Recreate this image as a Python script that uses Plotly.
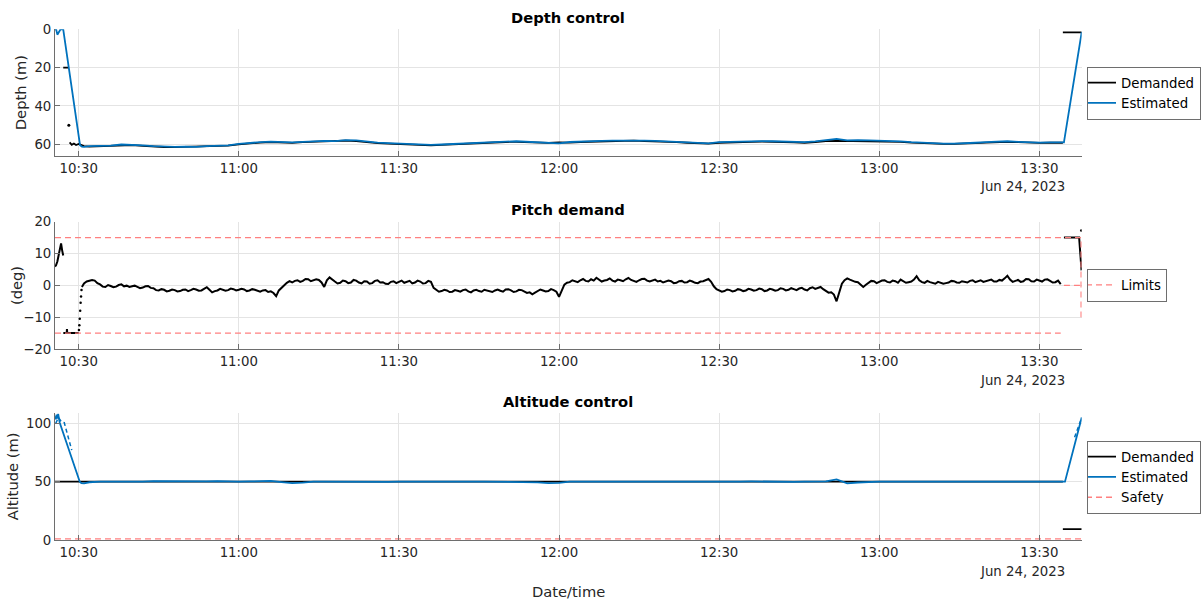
import plotly.graph_objects as go
import pandas as pd

FONT = "DejaVu Sans"
BASE = pd.Timestamp("2023-06-24 10:30:00")

def T(mins):
    return [None if m is None else BASE + pd.Timedelta(minutes=m) for m in mins]

# ---------------- time axis ----------------
x_start_min = -4.44
x_end_min = 187.93
tick_labels = ["10:30", "11:00", "11:30", "12:00", "12:30", "13:00", "13:30"]
tick_mins = [0, 30, 60, 90, 120, 150, 180]
date_label = "Jun 24, 2023"

# ---------------- depth (2-min samples, t = 2..184 min after 10:30) ----------------
depth_step_min = 2
depth_first_min = 2
depth_est_main = [
    61.0, 60.9, 60.7, 60.1, 60.2, 60.6, 61.0, 61.2, 61.3, 61.2,
    61.3, 61.0, 60.8, 60.6, 59.8, 59.2, 58.9, 58.6, 58.9, 59.0,
    58.7, 58.4, 58.2, 58.3, 57.8, 58.0, 58.6, 59.1, 59.4, 59.7,
    60.0, 60.2, 60.3, 60.1, 59.8, 59.6, 59.4, 59.1, 58.8, 58.6,
    58.4, 58.6, 58.8, 59.0, 59.5, 58.8, 58.5, 58.4, 58.2, 58.1,
    58.0, 57.9, 58.1, 58.2, 58.5, 58.7, 59.0, 59.3, 59.5, 58.9,
    58.7, 58.6, 58.5, 58.3, 58.4, 58.6, 58.8, 58.9, 58.5, 58.0,
    57.2, 58.0, 57.8, 58.0, 58.1, 58.3, 58.5, 58.9, 59.2, 59.5,
    59.6, 59.6, 59.5, 59.2, 58.9, 58.6, 58.4, 58.7, 59.0, 59.1,
    59.0, 59.1]
depth_dem_main = [
    61.2, 61.0, 60.8, 60.3, 60.4, 60.8, 61.2, 61.4, 61.5, 61.3,
    61.4, 61.2, 60.9, 60.7, 60.0, 59.4, 59.1, 58.9, 59.2, 59.3,
    58.9, 58.7, 58.5, 58.5, 58.1, 58.3, 58.9, 59.4, 59.7, 60.0,
    60.3, 60.5, 60.6, 60.3, 60.0, 59.8, 59.6, 59.3, 59.0, 58.8,
    58.7, 58.9, 59.0, 59.3, 59.0, 59.1, 58.8, 58.6, 58.4, 58.3,
    58.2, 58.1, 58.3, 58.4, 58.7, 58.9, 59.2, 59.5, 59.7, 59.2,
    58.9, 58.9, 58.7, 58.6, 58.6, 58.8, 59.0, 59.2, 58.8, 58.3,
    58.2, 58.3, 58.1, 58.3, 58.3, 58.5, 58.7, 59.1, 59.4, 59.7,
    59.8, 59.8, 59.7, 59.4, 59.1, 58.8, 58.7, 58.9, 59.2, 59.3,
    59.2, 59.3]
depth_est_start_min = [-4.44, -4.2, -4.0, -3.7, -3.4, -2.9, 0.25, 0.6, 1.0]
depth_est_start = [0.0, 0.3, 2.8, 1.5, 0.0, 0.0, 60.5, 61.2, 61.3]
depth_est_end_min = [184.6, 187.93]
depth_est_end = [59.0, 1.5]

depth_dem_a_min = [-2.9, -2.0]
depth_dem_a = [20.0, 20.0]
depth_dem_dot_min = [-1.85]
depth_dem_dot = [50.0]
depth_dem_start_min = [-1.7, -1.3, -0.9, -0.5, 0.0, 0.5, 1.0]
depth_dem_start = [59.0, 60.3, 59.6, 60.4, 59.8, 60.5, 60.9]
depth_dem_tail_min = [184.4]
depth_dem_tail = [59.2]
depth_dem_end_min = [184.4, 187.93]
depth_dem_end = [1.6, 1.6]

# ---------------- pitch (0.5-min samples, t = 1..184 min after 10:30) ----------------
pitch_step_min = 0.5
pitch_first_min = 1.0
pitch_main = [
    0.6, 1.2, 1.4, 1.7, 1.5, 0.7, 0.3, -0.4, -0.5, 0.1, -0.2, -0.6, -0.4, 0.1, 0.3, -0.3, -0.1, -0.5, -0.3,
    -0.1, -0.5, -0.9, -0.7, -0.3, -0.2, -0.8, -0.9, -1.5, -1.6, -1.2, -1.4, -1.9, -1.7, -1.3, -1.5, -1.9, -1.8, -1.4, -1.3,
    -1.8, -1.5, -1.1, -1.3, -1.7, -1.6, -1.0, -0.6, -1.4, -2.2, -1.8, -1.6, -1.1, -1.3, -1.7, -1.5, -1.0, -1.2, -1.6, -1.4,
    -1.1, -1.3, -1.8, -1.6, -1.2, -1.4, -1.8, -2.0, -1.6, -1.5, -2.1, -1.9, -2.4, -3.4, -1.6, -0.8, 0.3, 0.8, 1.3, 0.9,
    1.4, 1.6, 1.1, 1.4, 2.0, 1.9, 1.3, 1.5, 1.9, 1.7, 0.9, -0.5, 1.6, 2.5, 1.7, 1.2, 0.6, 0.8, 1.5, 1.3,
    0.7, 0.9, 1.7, 1.5, 0.9, 0.6, 1.3, 1.2, 0.5, 0.7, 1.4, 1.6, 0.9, 1.0, 0.5, 0.4, 1.1, 1.3, 0.7, 1.1,
    1.5, 0.8, 1.0, 1.4, 0.6, 0.9, 1.5, 1.2, 0.6, 0.7, 1.4, 1.1, -0.8, -1.5, -2.0, -1.8, -1.4, -1.6, -2.1, -2.0,
    -1.5, -1.7, -2.0, -1.5, -1.3, -1.9, -2.2, -1.6, -1.4, -1.8, -2.0, -1.4, -1.6, -1.9, -2.1, -1.6, -1.3, -1.7, -2.0, -1.3,
    -1.2, -1.6, -2.1, -1.9, -1.4, -1.5, -2.0, -2.4, -2.2, -2.8, -2.3, -1.9, -1.3, -1.6, -1.9, -1.8, -1.2, -1.5, -2.0, -3.6,
    -1.5, 0.2, 0.8, 1.0, 1.6, 1.3, 1.0, 1.6, 2.0, 1.4, 1.2, 1.9, 1.5, 2.4, 1.8, 1.2, 1.5, 1.7, 2.2, 1.5,
    1.2, 1.8, 1.6, 1.3, 1.9, 2.3, 1.7, 1.5, 1.1, 1.6, 2.0, 2.1, 1.5, 1.2, 1.6, 1.8, 1.2, 1.4, 0.9, 1.1,
    1.5, 1.3, 0.7, 0.8, 1.3, 1.4, 0.9, 1.0, 1.5, 1.2, 0.8, 0.7, 1.2, 1.3, 1.6, 2.0, 1.1, -0.3, -1.2, -1.6,
    -2.0, -1.8, -1.3, -1.5, -1.9, -1.7, -1.2, -1.4, -1.8, -1.6, -1.1, -1.3, -1.7, -1.5, -1.0, -1.2, -1.8, -1.6, -1.1, -1.3,
    -1.7, -1.5, -0.9, -1.1, -1.6, -1.4, -0.9, -1.2, -1.5, -1.0, -0.8, -1.3, -1.6, -0.9, -0.6, -1.1, -0.9, -0.5, -1.2, -1.9,
    -2.3, -2.2, -2.9, -5.0, -2.0, 0.5, 1.6, 2.2, 1.8, 1.4, 1.1, 1.0, 0.2, -0.5, 0.2, 0.8, 1.4, 1.3, 0.7, 1.1,
    1.5, 1.6, 1.1, 0.9, 1.5, 1.3, 0.8, 1.8, 1.4, 0.8, 1.0, 1.2, 1.8, 2.9, 1.6, 1.0, 0.8, 1.4, 1.0, 0.7,
    0.5, 1.1, 0.9, 0.5, 0.7, 0.9, 1.4, 1.3, 0.9, 0.8, 1.3, 1.2, 0.9, 1.4, 1.6, 1.0, 1.2, 1.6, 1.1, 1.3,
    1.7, 1.8, 1.2, 1.2, 1.7, 1.5, 2.2, 3.0, 1.8, 1.1, 1.4, 1.7, 1.1, 1.3, 2.0, 1.9, 1.3, 1.2, 1.8, 1.6,
    1.2, 1.8, 1.9, 1.4, 0.9, 1.0, 1.5, 0.4]
pitch_a_min = [-4.44, -4.25, -4.0, -3.75, -3.5, -3.3, -3.1, -2.9]
pitch_a = [5.9, 6.3, 7.5, 10.0, 12.5, 13.2, 11.0, 9.4]
pitch_b_min = [-2.88, -2.25, -2.2, -2.15, 0.0]
pitch_b = [-15.0, -15.0, -13.7, -15.0, -15.0]
pitch_rise_min = [0.05, 0.12, 0.2, 0.28, 0.36, 0.44, 0.52]
pitch_rise = [-14.0, -12.5, -10.5, -8.0, -5.5, -3.5, -1.5]
pitch_d0_min = [0.6]
pitch_d0 = [-0.5]
pitch_e_min = [184.6, 187.45, 187.9]
pitch_e = [15.0, 15.0, 4.7]
pitch_dot_min = [187.85]
pitch_dot = [17.2]
lim_up_min = [-4.44, 187.82, 187.82]
lim_up = [15.0, 15.0, -10.0]
lim_lo_min = [-4.44, 184.0, None, 184.6, 187.82]
lim_lo = [-15.0, -15.0, None, 0.0, 0.0]

# ---------------- altitude (2-min samples, t = 2..184) ----------------
alt_main = [
    49.5, 50.1, 50.0, 50.1, 50.0, 50.1, 50.5, 50.4, 50.3, 50.0,
    50.1, 50.2, 50.4, 50.1, 50.0, 50.2, 50.5, 50.6, 49.6, 48.8,
    49.2, 50.0, 50.1, 50.0, 50.2, 50.0, 50.1, 50.0, 49.9, 50.1,
    50.0, 49.9, 50.1, 50.0, 50.2, 50.1, 50.0, 50.1, 50.0, 50.2,
    50.1, 50.0, 49.4, 48.8, 49.0, 50.0, 50.1, 50.2, 50.0, 50.1,
    50.0, 50.1, 50.0, 50.2, 50.1, 50.0, 50.1, 50.0, 49.8, 50.1,
    50.0, 50.1, 50.2, 50.0, 50.1, 50.0, 49.9, 50.1, 50.0, 50.3,
    52.0, 48.6, 49.3, 50.0, 50.1, 50.0, 50.2, 50.1, 50.0, 50.1,
    50.0, 49.9, 50.1, 50.0, 50.2, 50.1, 50.0, 50.1, 50.0, 50.1,
    50.0, 50.0]
alt_est_start_min = [-4.44, -4.3, -4.15, -4.0, -3.85, -3.7, -3.55, 0.2, 0.5, 1.0, 1.5]
alt_est_start = [106.0, 103.5, 107.5, 104.0, 108.0, 102.5, 100.5, 50.0, 48.8, 48.6, 49.0]
alt_est_end_min = [184.8, 187.93]
alt_est_end = [50.0, 105.0]
alt_meas_min = [-4.3, -3.8, -3.2, -2.7, -1.3, None, 186.6, 187.93]
alt_meas = [100.0, 105.0, 101.0, 100.5, 77.0, None, 88.0, 105.0]
alt_dem_min = [-4.44, 184.4, None, 184.4, 187.93]
alt_dem = [50.0, 50.0, None, 9.4, 9.4]
safety_min = [-4.44, 187.93]
safety = [1.0, 1.0]

grid2_min = [depth_first_min + depth_step_min * i for i in range(len(depth_est_main))]
gridp_min = [pitch_first_min + pitch_step_min * i for i in range(len(pitch_main))]

BLUE = "#0072BD"
BLACK = "#000000"
RED = "rgb(255,128,128)"
AXC = "rgb(110,110,110)"
GRIDC = "rgb(228,228,228)"
TXT = "#262626"

fig = go.Figure()

# depth
fig.add_trace(go.Scatter(
    x=T(depth_dem_a_min + [None] + depth_dem_start_min + grid2_min + depth_dem_tail_min + [None] + depth_dem_end_min),
    y=depth_dem_a + [None] + depth_dem_start + depth_dem_main + depth_dem_tail + [None] + depth_dem_end,
    mode="lines", line=dict(color=BLACK, width=1.8), name="Demanded",
    xaxis="x", yaxis="y", legend="legend"))
fig.add_trace(go.Scatter(
    x=T(depth_dem_dot_min), y=depth_dem_dot, mode="markers",
    marker=dict(color=BLACK, size=3), showlegend=False, xaxis="x", yaxis="y"))
fig.add_trace(go.Scatter(
    x=T(depth_est_start_min + grid2_min + depth_est_end_min),
    y=depth_est_start + depth_est_main + depth_est_end,
    mode="lines", line=dict(color=BLUE, width=1.8), name="Estimated",
    xaxis="x", yaxis="y", legend="legend"))

# pitch
fig.add_trace(go.Scatter(
    x=T(pitch_a_min + [None] + pitch_b_min + [None] + pitch_d0_min + gridp_min + [None] + pitch_e_min),
    y=pitch_a + [None] + pitch_b + [None] + pitch_d0 + pitch_main + [None] + pitch_e,
    mode="lines", line=dict(color=BLACK, width=2), showlegend=False,
    xaxis="x2", yaxis="y2"))
fig.add_trace(go.Scatter(
    x=T(pitch_rise_min + pitch_dot_min), y=pitch_rise + pitch_dot, mode="markers",
    marker=dict(color=BLACK, size=2.5), showlegend=False, xaxis="x2", yaxis="y2"))
fig.add_trace(go.Scatter(
    x=T(lim_up_min), y=lim_up, mode="lines",
    line=dict(color=RED, width=1.3, dash="6px,4px"), name="Limits",
    legendgroup="lim", xaxis="x2", yaxis="y2", legend="legend2"))
fig.add_trace(go.Scatter(
    x=T(lim_lo_min), y=lim_lo, mode="lines",
    line=dict(color=RED, width=1.3, dash="6px,4px"), name="Limits",
    legendgroup="lim", showlegend=False, xaxis="x2", yaxis="y2", legend="legend2"))

# altitude
fig.add_trace(go.Scatter(
    x=T(alt_dem_min), y=alt_dem, mode="lines",
    line=dict(color=BLACK, width=1.8), name="Demanded",
    xaxis="x3", yaxis="y3", legend="legend3"))
fig.add_trace(go.Scatter(
    x=T(alt_meas_min), y=alt_meas, mode="lines",
    line=dict(color=BLUE, width=1.5, dash="4px,3px"), showlegend=False,
    xaxis="x3", yaxis="y3"))
fig.add_trace(go.Scatter(
    x=T(alt_est_start_min + grid2_min + alt_est_end_min),
    y=alt_est_start + alt_main + alt_est_end, mode="lines",
    line=dict(color=BLUE, width=1.8), name="Estimated",
    xaxis="x3", yaxis="y3", legend="legend3"))
fig.add_trace(go.Scatter(
    x=T(safety_min), y=safety, mode="lines",
    line=dict(color=RED, width=1.3, dash="6px,4px"), name="Safety",
    xaxis="x3", yaxis="y3", legend="legend3"))

W, H = 1203, 603
XDOM = [55 / W, 1081.7 / W]
xr = [BASE + pd.Timedelta(minutes=x_start_min), BASE + pd.Timedelta(minutes=x_end_min)]
tickvals = T(tick_mins)

def xaxis(anchor):
    return dict(type="date", range=xr, domain=XDOM, anchor=anchor, automargin=False,
                showline=True, linecolor=AXC, linewidth=1,
                ticks="inside", ticklen=5, tickcolor=AXC, tickwidth=1,
                showgrid=True, gridcolor=GRIDC, gridwidth=1, zeroline=False,
                tickvals=tickvals, ticktext=tick_labels,
                tickfont=dict(family=FONT, size=13.3, color=TXT))

def yaxis(anchor, top_px, bot_px, rng, tv):
    return dict(domain=[1 - bot_px / H, 1 - top_px / H], anchor=anchor, range=rng,
                automargin=False,
                showline=True, linecolor=AXC, linewidth=1,
                ticks="inside", ticklen=5, tickcolor=AXC, tickwidth=1,
                showgrid=True, gridcolor=GRIDC, gridwidth=1, zeroline=False,
                tickvals=tv, tickfont=dict(family=FONT, size=13.3, color=TXT))

axes = [(29.3, 155.7), (221.7, 349.0), (413.3, 540.0)]

def legend(center_px):
    return dict(x=1087 / W, y=1 - center_px / H, xanchor="left", yanchor="middle",
                bgcolor="white", bordercolor=AXC, borderwidth=1,
                font=dict(family=FONT, size=13.3, color="#000000"),
                tracegroupgap=0, indentation=-7)

annotations = []
titles = ["Depth control", "Pitch demand", "Altitude control"]
ylabels = [("Depth (m)", 20.7), ("(deg)", 16.7), ("Altitude (m)", 12.7)]
for (top, bot), title, (yl, ylx) in zip(axes, titles, ylabels):
    annotations.append(dict(text="<b>%s</b>" % title, x=(55 + 1081.7) / 2 / W, y=1 - (top - 12) / H,
                            xref="paper", yref="paper", showarrow=False,
                            xanchor="center", yanchor="middle",
                            font=dict(family=FONT, size=14.7, color="#000000")))
    annotations.append(dict(text=yl, x=ylx / W, y=1 - (top + bot) / 2 / H,
                            xref="paper", yref="paper", showarrow=False, textangle=-90,
                            xanchor="center", yanchor="middle",
                            font=dict(family=FONT, size=14.7, color=TXT)))
    annotations.append(dict(text=date_label, x=1067 / W, y=1 - (bot + 31) / H,
                            xref="paper", yref="paper", showarrow=False,
                            xanchor="right", yanchor="middle",
                            font=dict(family=FONT, size=13.3, color=TXT)))
annotations.append(dict(text="Date/time", x=(55 + 1081.7) / 2 / W, y=1 - 591 / H,
                        xref="paper", yref="paper", showarrow=False,
                        xanchor="center", yanchor="middle",
                        font=dict(family=FONT, size=14.7, color=TXT)))

fig.update_layout(
    width=W, height=H, margin=dict(l=0, r=0, t=0, b=0, autoexpand=False),
    paper_bgcolor="white", plot_bgcolor="white",
    font=dict(family=FONT, size=13.3, color=TXT),
    xaxis=xaxis("y"), xaxis2=xaxis("y2"), xaxis3=xaxis("y3"),
    yaxis=yaxis("x", *axes[0], [65.95, 0], [0, 20, 40, 60]),
    yaxis2=yaxis("x2", *axes[1], [-20, 20], [-20, -10, 0, 10, 20]),
    yaxis3=yaxis("x3", *axes[2], [0, 108.6], [0, 50, 100]),
    legend=legend(93), legend2=legend(285.2), legend3=legend(477),
    annotations=annotations,
)

fig.write_html("out.html")
